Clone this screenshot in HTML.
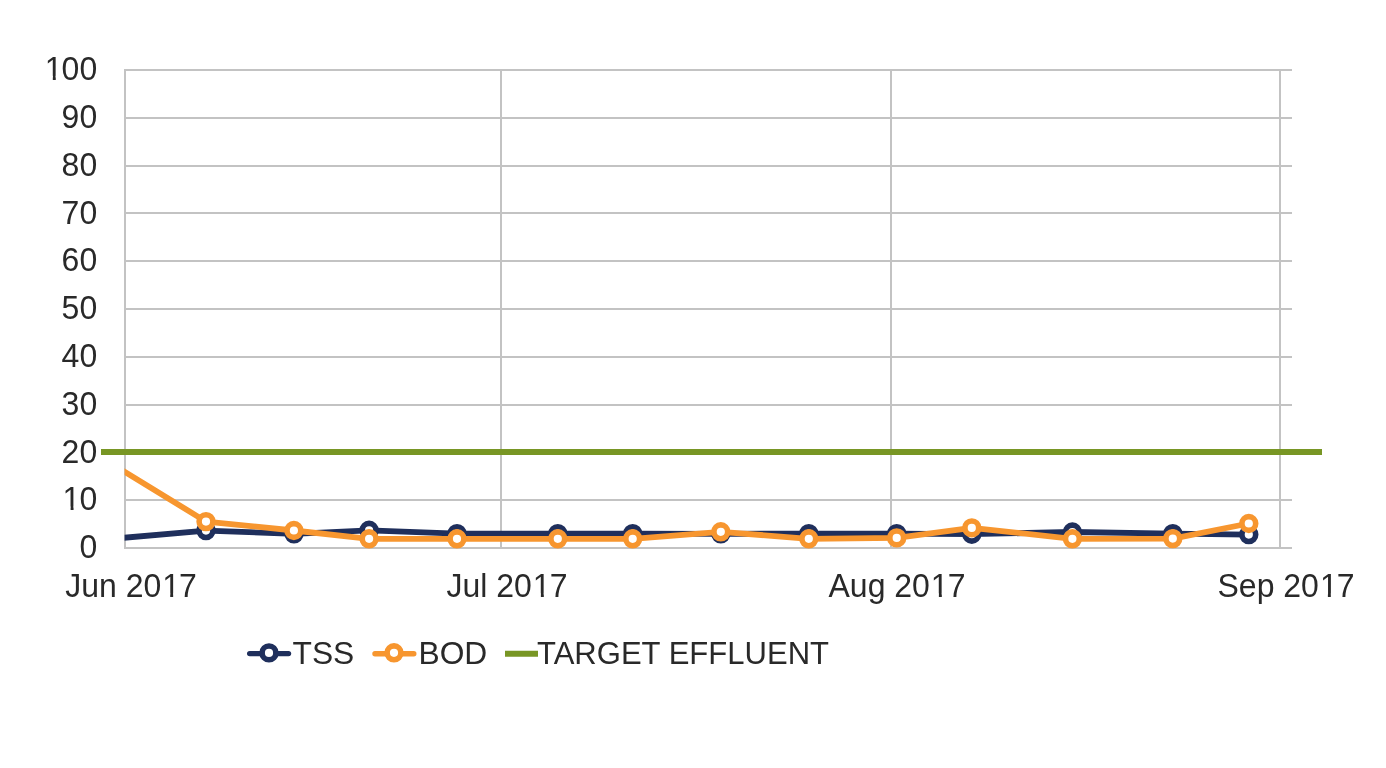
<!DOCTYPE html>
<html><head><meta charset="utf-8"><style>
html,body{margin:0;padding:0;background:#fff;width:1386px;height:768px;overflow:hidden}
svg{display:block;will-change:transform}
text{font-family:"Liberation Sans",sans-serif;}
</style></head><body>
<svg width="1386" height="768" viewBox="0 0 1386 768">
<rect width="1386" height="768" fill="#fff"/>
<g stroke="#c3c3c3" stroke-width="2" shape-rendering="crispEdges"><line x1="124" y1="548.0" x2="1292" y2="548.0"/><line x1="124" y1="500.2" x2="1292" y2="500.2"/><line x1="124" y1="452.4" x2="1292" y2="452.4"/><line x1="124" y1="404.6" x2="1292" y2="404.6"/><line x1="124" y1="356.8" x2="1292" y2="356.8"/><line x1="124" y1="309.0" x2="1292" y2="309.0"/><line x1="124" y1="261.2" x2="1292" y2="261.2"/><line x1="124" y1="213.39999999999998" x2="1292" y2="213.39999999999998"/><line x1="124" y1="165.60000000000002" x2="1292" y2="165.60000000000002"/><line x1="124" y1="117.80000000000001" x2="1292" y2="117.80000000000001"/><line x1="124" y1="70.0" x2="1292" y2="70.0"/><line x1="125" y1="69.0" x2="125" y2="549.0"/><line x1="501" y1="69.0" x2="501" y2="549.0"/><line x1="891" y1="69.0" x2="891" y2="549.0"/><line x1="1280" y1="69.0" x2="1280" y2="549.0"/></g>
<g fill="#292929" font-size="32"><text x="97.2" y="557.8" transform="matrix(1 0 0 1.04 0 -22.312)" text-anchor="end">0</text><text x="96.2" y="510.4" transform="matrix(1 0 0 1.04 0 -20.416)" text-anchor="end"><tspan dx="1">1</tspan><tspan dx="-1">0</tspan></text><text x="97.2" y="462.6" transform="matrix(1 0 0 1.04 0 -18.504)" text-anchor="end">20</text><text x="97.2" y="414.8" transform="matrix(1 0 0 1.04 0 -16.592)" text-anchor="end">30</text><text x="97.2" y="367.0" transform="matrix(1 0 0 1.04 0 -14.680)" text-anchor="end">40</text><text x="97.2" y="319.2" transform="matrix(1 0 0 1.04 0 -12.768)" text-anchor="end">50</text><text x="97.2" y="271.4" transform="matrix(1 0 0 1.04 0 -10.856)" text-anchor="end">60</text><text x="97.2" y="223.6" transform="matrix(1 0 0 1.04 0 -8.944)" text-anchor="end">70</text><text x="97.2" y="175.8" transform="matrix(1 0 0 1.04 0 -7.032)" text-anchor="end">80</text><text x="97.2" y="128.0" transform="matrix(1 0 0 1.04 0 -5.120)" text-anchor="end">90</text><text x="96.2" y="79.6" transform="matrix(1 0 0 1.04 0 -3.184)" text-anchor="end"><tspan dx="1">1</tspan><tspan dx="-1">0</tspan>0</text><text x="131" y="597.2" transform="matrix(1 0 0 1.04 0 -23.888)" text-anchor="middle">Jun 20<tspan dx="1">1</tspan><tspan dx="-1">7</tspan></text><text x="507" y="597.2" transform="matrix(1 0 0 1.04 0 -23.888)" text-anchor="middle">Jul 20<tspan dx="1">1</tspan><tspan dx="-1">7</tspan></text><text x="897" y="597.2" transform="matrix(1 0 0 1.04 0 -23.888)" text-anchor="middle">Aug 20<tspan dx="1">1</tspan><tspan dx="-1">7</tspan></text><text x="1286" y="597.2" transform="matrix(1 0 0 1.04 0 -23.888)" text-anchor="middle">Sep 20<tspan dx="1">1</tspan><tspan dx="-1">7</tspan></text></g>
<line x1="101" y1="452" x2="1322" y2="452" stroke="#789624" stroke-width="6"/>
<defs><clipPath id="pc"><rect x="124.6" y="0" width="1262" height="768"/></clipPath></defs>
<g clip-path="url(#pc)"><polyline fill="none" stroke="#1f2f5c" stroke-width="5.8" stroke-linejoin="round" points="118,538.3 206,530.6 294,533.8 369.1,530.3 457,533.7 557.8,533.7 632.7,533.7 720.8,533.8 808.8,533.7 896.7,533.7 971.8,534.2 1072.4,532.0 1172.8,533.7 1248.8,534.6"/><circle cx="206" cy="530.6" r="6.9" fill="#fff" stroke="#1f2f5c" stroke-width="5.6"/><circle cx="294" cy="533.8" r="6.9" fill="#fff" stroke="#1f2f5c" stroke-width="5.6"/><circle cx="369.1" cy="530.3" r="6.9" fill="#fff" stroke="#1f2f5c" stroke-width="5.6"/><circle cx="457" cy="533.7" r="6.9" fill="#fff" stroke="#1f2f5c" stroke-width="5.6"/><circle cx="557.8" cy="533.7" r="6.9" fill="#fff" stroke="#1f2f5c" stroke-width="5.6"/><circle cx="632.7" cy="533.7" r="6.9" fill="#fff" stroke="#1f2f5c" stroke-width="5.6"/><circle cx="720.8" cy="533.8" r="6.9" fill="#fff" stroke="#1f2f5c" stroke-width="5.6"/><circle cx="808.8" cy="533.7" r="6.9" fill="#fff" stroke="#1f2f5c" stroke-width="5.6"/><circle cx="896.7" cy="533.7" r="6.9" fill="#fff" stroke="#1f2f5c" stroke-width="5.6"/><circle cx="971.8" cy="534.2" r="6.9" fill="#fff" stroke="#1f2f5c" stroke-width="5.6"/><circle cx="1072.4" cy="532.0" r="6.9" fill="#fff" stroke="#1f2f5c" stroke-width="5.6"/><circle cx="1172.8" cy="533.7" r="6.9" fill="#fff" stroke="#1f2f5c" stroke-width="5.6"/><circle cx="1248.8" cy="534.6" r="6.9" fill="#fff" stroke="#1f2f5c" stroke-width="5.6"/><polyline fill="none" stroke="#F7962F" stroke-width="5.8" stroke-linejoin="round" points="118,467.6 206,521.6 293.9,530.5 369.1,538.8 457,538.8 557.8,538.8 632.7,538.8 720.8,531.8 808.8,538.8 896.7,537.9 971.8,527.9 1072.4,538.8 1172.8,538.6 1248.8,523.5"/><circle cx="206" cy="521.6" r="6.9" fill="#fff" stroke="#F7962F" stroke-width="5.6"/><circle cx="293.9" cy="530.5" r="6.9" fill="#fff" stroke="#F7962F" stroke-width="5.6"/><circle cx="369.1" cy="538.8" r="6.9" fill="#fff" stroke="#F7962F" stroke-width="5.6"/><circle cx="457" cy="538.8" r="6.9" fill="#fff" stroke="#F7962F" stroke-width="5.6"/><circle cx="557.8" cy="538.8" r="6.9" fill="#fff" stroke="#F7962F" stroke-width="5.6"/><circle cx="632.7" cy="538.8" r="6.9" fill="#fff" stroke="#F7962F" stroke-width="5.6"/><circle cx="720.8" cy="531.8" r="6.9" fill="#fff" stroke="#F7962F" stroke-width="5.6"/><circle cx="808.8" cy="538.8" r="6.9" fill="#fff" stroke="#F7962F" stroke-width="5.6"/><circle cx="896.7" cy="537.9" r="6.9" fill="#fff" stroke="#F7962F" stroke-width="5.6"/><circle cx="971.8" cy="527.9" r="6.9" fill="#fff" stroke="#F7962F" stroke-width="5.6"/><circle cx="1072.4" cy="538.8" r="6.9" fill="#fff" stroke="#F7962F" stroke-width="5.6"/><circle cx="1172.8" cy="538.6" r="6.9" fill="#fff" stroke="#F7962F" stroke-width="5.6"/><circle cx="1248.8" cy="523.5" r="6.9" fill="#fff" stroke="#F7962F" stroke-width="5.6"/></g>
<line x1="249.7" y1="653.6" x2="288.5" y2="653.6" stroke="#1f2f5c" stroke-width="5.4" stroke-linecap="round"/><circle cx="269" cy="652.9" r="6.9" fill="#fff" stroke="#1f2f5c" stroke-width="5.6"/>
<line x1="375.0" y1="653.8" x2="413.8" y2="653.8" stroke="#F7962F" stroke-width="5.4" stroke-linecap="round"/><circle cx="394" cy="652.8" r="6.9" fill="#fff" stroke="#F7962F" stroke-width="5.6"/>
<line x1="505" y1="653.8" x2="538" y2="653.8" stroke="#789624" stroke-width="6"/>
<g fill="#292929" font-size="32"><text x="292.5" y="663.5" font-size="31.75">TSS</text><text x="418.5" y="663.5" font-size="31.75">BOD</text><text x="537" y="663.6" font-size="32" textLength="292" lengthAdjust="spacingAndGlyphs">TARGET EFFLUENT</text></g>
<g fill="#fff"><rect x="63.54" y="506.61" width="7.06" height="5.09"/><rect x="73.54" y="506.61" width="6.64" height="5.09"/><rect x="45.75" y="75.81" width="7.06" height="5.09"/><rect x="55.75" y="75.81" width="6.64" height="5.09"/><rect x="163.16" y="593.41" width="7.06" height="5.09"/><rect x="173.16" y="593.41" width="6.64" height="5.09"/><rect x="533.81" y="593.41" width="7.06" height="5.09"/><rect x="543.81" y="593.41" width="6.64" height="5.09"/><rect x="931.82" y="593.41" width="7.06" height="5.09"/><rect x="941.82" y="593.41" width="6.64" height="5.09"/><rect x="1320.82" y="593.41" width="7.06" height="5.09"/><rect x="1330.82" y="593.41" width="6.64" height="5.09"/></g>
</svg></body></html>
